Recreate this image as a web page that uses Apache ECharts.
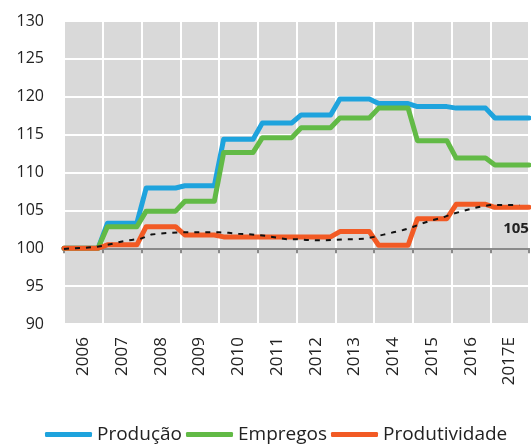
<!DOCTYPE html>
<html>
<head>
<meta charset="utf-8">
<script src="https://cdn.jsdelivr.net/npm/echarts@6/dist/echarts.min.js"></script>
<style>
  html, body { margin: 0; padding: 0; background: #fff; }
  #chart { width: 531px; height: 446px; }
</style>
</head>
<body>
<div id="chart"></div>
<script>
// index values, 2006 = 100
var years = ["2006", "2007", "2008", "2009", "2010", "2011", "2012", "2013", "2014", "2015", "2016", "2017E"];
var producao = [100, 103.3, 107.95, 108.25, 114.4, 116.55, 117.6, 119.7, 119.1, 118.7, 118.5, 117.2];
var empregos = [100, 102.85, 104.9, 106.2, 112.65, 114.6, 115.9, 117.2, 118.5, 114.2, 111.9, 111.0];
var produtividade = [100, 100.45, 102.85, 101.75, 101.5, 101.5, 101.5, 102.2, 100.4, 103.9, 105.8, 105.4];
// quarterly trend (dashed black)
var tendencia = [
    99.9, 100.0, 100.05, 100.15, 100.3, 100.6, 100.9, 101.1,
    101.3, 101.8, 101.95, 102.05, 102.1, 102.1, 102.1, 102.1,
    102.1, 102.05, 101.9, 101.85, 101.75, 101.6, 101.4, 101.2,
    101.2, 101.1, 101.05, 101.05, 101.1, 101.2, 101.2, 101.25,
    101.5, 101.8, 102.1, 102.4, 102.8, 103.3, 103.7, 104.0,
    104.5, 104.85, 105.2, 105.5, 105.7, 105.7, 105.7, 105.7
];

var BASE = 100; // x axis crosses at 100

// each year flat, with a short ramp at the year boundary
function steps(vals) {
    var pts = [];
    vals.forEach(function (v, i) {
        pts.push([i === 0 ? 0 : i + 0.12, v - BASE]);
        pts.push([i === vals.length - 1 ? vals.length : i + 0.88, v - BASE]);
    });
    return pts;
}

var txt = "#222";
var font = "'Open Sans', 'DejaVu Sans', sans-serif";

var myChart = echarts.init(document.getElementById("chart"));
var lastProd = produtividade[produtividade.length - 1];

myChart.setOption({
    animation: false,
    grid: {
        left: 64,
        right: 2,
        top: 21,
        bottom: 122,
        show: true,
        backgroundColor: "#d9d9d9",
        borderWidth: 0
    },
    legend: {
        data: ["Produção", "Empregos", "Produtividade"],
        left: 40,
        top: 420,
        icon: "roundRect",
        itemWidth: 47,
        itemHeight: 5,
        itemGap: 4,
        textStyle: { fontFamily: font, fontSize: 19, color: txt }
    },
    xAxis: [
        {
            type: "value",
            min: 0,
            max: years.length,
            interval: 1,
            axisLine: { onZero: true, lineStyle: { color: "#8a8a8a", width: 2 } },
            axisTick: { show: true, length: 5, lineStyle: { color: "#8a8a8a", width: 2 } },
            axisLabel: { show: false },
            splitLine: { show: true, lineStyle: { color: "#fff", width: 2 } }
        },
        {
            type: "category",
            data: years,
            position: "bottom",
            boundaryGap: true,
            axisLine: { show: false, onZero: false },
            axisTick: { show: false },
            splitLine: { show: false },
            axisLabel: { rotate: 90, margin: 13, fontFamily: font, fontSize: 17, color: txt }
        }
    ],
    yAxis: {
        type: "value",
        min: -10,
        max: 30,
        interval: 5,
        axisLine: { show: false },
        axisTick: { show: false },
        axisLabel: {
            margin: 20,
            fontFamily: font,
            fontSize: 16,
            color: txt,
            formatter: function (v) { return v + BASE; }
        },
        splitLine: { show: true, lineStyle: { color: "#fff", width: 2 } }
    },
    series: [
        {
            name: "Produção",
            type: "line",
            xAxisIndex: 0,
            data: steps(producao),
            showSymbol: false,
            color: "#1ea3dd",
            lineStyle: { width: 5, join: "round", cap: "round" }
        },
        {
            name: "Empregos",
            type: "line",
            xAxisIndex: 0,
            data: steps(empregos),
            showSymbol: false,
            color: "#62ba46",
            lineStyle: { width: 5, join: "round", cap: "round" }
        },
        {
            name: "Produtividade",
            type: "line",
            xAxisIndex: 0,
            data: steps(produtividade),
            showSymbol: false,
            color: "#f25a24",
            lineStyle: { width: 5, join: "round", cap: "round" },
            markPoint: {
                symbol: "circle",
                symbolSize: 0,
                data: [{ coord: [years.length, lastProd - BASE], value: Math.round(lastProd) }],
                label: {
                    show: true,
                    position: "inside",
                    offset: [-13, 21],
                    formatter: "{c}",
                    fontFamily: font,
                    fontSize: 15,
                    fontWeight: "bold",
                    color: txt
                }
            }
        },
        {
            name: "Tendência",
            type: "line",
            xAxisIndex: 0,
            data: tendencia.map(function (v, k) { return [k / 4, v - BASE]; }),
            showSymbol: false,
            color: "#111",
            lineStyle: { width: 2, type: [5, 6] }
        }
    ]
});
</script>
</body>
</html>
